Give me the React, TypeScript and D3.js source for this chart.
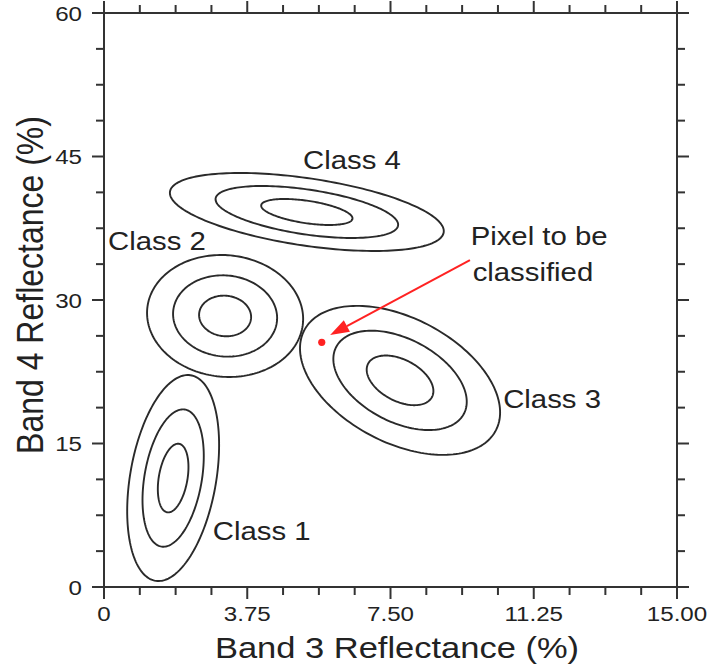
import React from "react";
import * as d3 from "d3";

// ---- data ----
const xMajor = [0, 3.75, 7.5, 11.25, 15];
const xLabels = ["0", "3.75", "7.50", "11.25", "15.00"];
const yMajor = [0, 15, 30, 45, 60];
const yLabels = ["0", "15", "30", "45", "60"];
const xMinorStep = 0.9375;
const yMinorStep = 3.75;

const classNames = ["Class 1", "Class 2", "Class 3", "Class 4"];
const meanX = [1.81, 3.17, 7.75, 5.31];
const meanY = [11.39, 28.33, 21.6, 39.2];
const sdX = [0.401, 0.681, 0.873, 1.195];
const sdY = [3.589, 2.125, 2.596, 1.359];
const corr = [0.32, -0.05, -0.43, -0.49];
const sigmaLevels = [1, 2, 3];
const labelX = [2.85, 0.105, 10.45, 5.21];
const labelY = [4.9, 35.2, 18.7, 43.7];

const pixelPoint = [5.7, 25.58];
const arrowFrom = [9.58, 34.18];
const arrowTo = [5.92, 26.34];
const annotationLines = ["Pixel to be", "classified"];
const annotationPos = [9.65, 35.75];

const xTitle = "Band 3 Reflectance (%)";
const yTitle = "Band 4 Reflectance (%)";

const W = 713;
const H = 671;
const left = 104, right = 677, top = 13, bottom = 587;
const SX = 1.15; // horizontal stretch of the reference lettering
const FONT = "'Liberation Sans', Arial, Helvetica, sans-serif";

export default function App() {
  const x = d3.scaleLinear().domain([0, 15]).range([left, right]);
  const y = d3.scaleLinear().domain([0, 60]).range([bottom, top]);

  const xMinor = d3.range(0, 15 + 1e-6, xMinorStep).filter((v) => !xMajor.some((m) => Math.abs(m - v) < 1e-6));
  const yMinor = d3.range(0, 60 + 1e-6, yMinorStep).filter((v) => !yMajor.some((m) => Math.abs(m - v) < 1e-6));

  const line = d3.line<[number, number]>().x((d) => x(d[0])).y((d) => y(d[1])).curve(d3.curveLinearClosed);
  const ts = d3.range(0, 2 * Math.PI, Math.PI / 90);
  const ellipsePath = (i: number, k: number) => {
    const pts: [number, number][] = ts.map((t) => [
      meanX[i] + k * sdX[i] * Math.cos(t),
      meanY[i] + k * (corr[i] * sdY[i] * Math.cos(t) + sdY[i] * Math.sqrt(1 - corr[i] * corr[i]) * Math.sin(t)),
    ]);
    return line(pts) || "";
  };

  const majLen = 12, minLen = 8;
  const axisColor = "#333";

  const st = (tx: number, ty: number, content: React.ReactNode, key?: string) => (
    <g key={key} transform={`translate(${tx},${ty}) scale(${SX},1)`}>{content}</g>
  );

  // arrow geometry
  const ax1 = x(arrowFrom[0]), ay1 = y(arrowFrom[1]);
  const ax2 = x(arrowTo[0]), ay2 = y(arrowTo[1]);
  const ang = Math.atan2(ay2 - ay1, ax2 - ax1);
  const headL = 19, headW = 6.5;
  const bx = ax2 - headL * Math.cos(ang), by = ay2 - headL * Math.sin(ang);
  const head = `M${ax2},${ay2} L${bx + headW * Math.sin(ang)},${by - headW * Math.cos(ang)} L${bx - headW * Math.sin(ang)},${by + headW * Math.cos(ang)} Z`;

  return (
    <svg width={W} height={H} style={{ position: "absolute", left: 0, top: 0, background: "#fff" }} fontFamily={FONT}>
      <rect x={0} y={0} width={W} height={H} fill="#fff" />
      {/* frame */}
      <g stroke={axisColor} strokeWidth={2} fill="none">
        <line x1={left} x2={right} y1={bottom} y2={bottom} />
        <line x1={left} x2={right} y1={top} y2={top} />
        <line x1={left} x2={left} y1={top} y2={bottom} />
        <line x1={right} x2={right} y1={top} y2={bottom} />
        {xMajor.map((v) => (
          <g key={"xM" + v}>
            <line x1={x(v)} x2={x(v)} y1={bottom} y2={bottom + majLen} />
            <line x1={x(v)} x2={x(v)} y1={top} y2={top - majLen} />
          </g>
        ))}
        {xMinor.map((v) => (
          <g key={"xm" + v}>
            <line x1={x(v)} x2={x(v)} y1={bottom} y2={bottom + minLen} />
            <line x1={x(v)} x2={x(v)} y1={top} y2={top - minLen} />
          </g>
        ))}
        {yMajor.map((v) => (
          <g key={"yM" + v}>
            <line x1={left} x2={left - majLen} y1={y(v)} y2={y(v)} />
            <line x1={right} x2={right + majLen} y1={y(v)} y2={y(v)} />
          </g>
        ))}
        {yMinor.map((v) => (
          <g key={"ym" + v}>
            <line x1={left} x2={left - minLen} y1={y(v)} y2={y(v)} />
            <line x1={right} x2={right + minLen} y1={y(v)} y2={y(v)} />
          </g>
        ))}
      </g>

      {/* tick labels */}
      <g fill="#222" fontSize={21}>
        {xMajor.map((v, i) => st(x(v), 621, <text textAnchor="middle">{xLabels[i]}</text>, "xl" + i))}
        {yMajor.map((v, i) => st(82, y(v) + 7.5, <text textAnchor="end">{yLabels[i]}</text>, "yl" + i))}
      </g>

      {/* axis titles */}
      {st(397, 658, <text textAnchor="middle" fontSize={30} fill="#222">{xTitle}</text>)}
      <g transform={`translate(43,285) scale(${SX},1) rotate(-90)`}>
        <text textAnchor="middle" fontSize={32} fill="#222">{yTitle}</text>
      </g>

      {/* ellipses */}
      <g fill="none" stroke="#2a2a2a" strokeWidth={1.9}>
        {classNames.map((_, i) => sigmaLevels.map((k) => <path key={i + "-" + k} d={ellipsePath(i, k)} />))}
      </g>

      {/* class labels */}
      <g fill="#222" fontSize={25.5}>
        {classNames.map((c, i) => st(x(labelX[i]), y(labelY[i]), <text>{c}</text>, "cl" + i))}
        {annotationLines.map((t, i) => st(x(annotationPos[0]) + (i === 0 ? -2 : 0), y(annotationPos[1]) + i * 36, <text>{t}</text>, "an" + i))}
      </g>

      {/* pixel and arrow */}
      <g>
        <line x1={ax1} y1={ay1} x2={bx} y2={by} stroke="#f22" strokeWidth={2} />
        <path d={head} fill="#f22" />
        <circle cx={x(pixelPoint[0])} cy={y(pixelPoint[1])} r={3.6} fill="#f22" />
      </g>
    </svg>
  );
}
